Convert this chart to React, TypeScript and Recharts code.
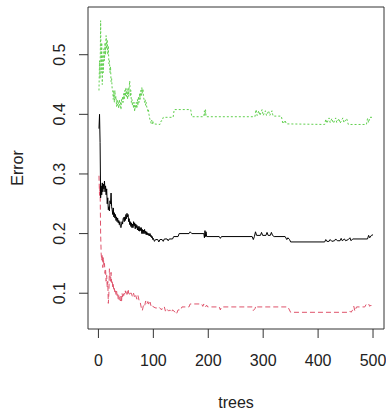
import React from 'react'
import { LineChart, Line, XAxis, YAxis, ReferenceArea } from 'recharts'

// error rate per number of trees: [tree, error]
const oobErr: [number, number][] = [
  [1, 0.376], [2, 0.4], [3, 0.353], [4, 0.26], [5, 0.28], [6, 0.265], [7, 0.285], [8, 0.27], [9, 0.283], [10, 0.275],
  [11, 0.288], [12, 0.27], [13, 0.28], [14, 0.265], [15, 0.275], [16, 0.25], [17, 0.26], [18, 0.24], [19, 0.245], [20, 0.238],
  [21, 0.255], [22, 0.25], [23, 0.268], [24, 0.245], [25, 0.24], [26, 0.232], [27, 0.243], [28, 0.228], [29, 0.235], [30, 0.226],
  [31, 0.232], [32, 0.222], [33, 0.228], [34, 0.22], [35, 0.226], [36, 0.218], [37, 0.222], [38, 0.215], [39, 0.22], [40, 0.212],
  [41, 0.21], [42, 0.214], [43, 0.22], [44, 0.216], [45, 0.225], [46, 0.227], [47, 0.22], [48, 0.228], [49, 0.222], [50, 0.232],
  [51, 0.225], [52, 0.234], [53, 0.228], [54, 0.232], [55, 0.22], [56, 0.225], [57, 0.215], [58, 0.22], [59, 0.212], [60, 0.218],
  [61, 0.21], [62, 0.216], [63, 0.21], [64, 0.22], [65, 0.213], [66, 0.218], [67, 0.208], [68, 0.216], [69, 0.21], [70, 0.214],
  [71, 0.206], [72, 0.212], [73, 0.205], [74, 0.212], [75, 0.204], [76, 0.21], [77, 0.205], [78, 0.21], [79, 0.2], [80, 0.207],
  [81, 0.2], [82, 0.206], [83, 0.2], [84, 0.207], [85, 0.2], [86, 0.204], [87, 0.198], [88, 0.203], [89, 0.198], [90, 0.201],
  [91, 0.197], [92, 0.2], [93, 0.196], [94, 0.2], [95, 0.195], [96, 0.197], [97, 0.193], [98, 0.195], [99, 0.19], [100, 0.192],
  [102, 0.187], [104, 0.19], [108, 0.19], [110, 0.186], [112, 0.19], [116, 0.19], [118, 0.187], [120, 0.191], [125, 0.191],
  [127, 0.188], [129, 0.191], [135, 0.191], [137, 0.195], [145, 0.195], [147, 0.2], [165, 0.2], [167, 0.203], [170, 0.2],
  [192, 0.2], [193, 0.193], [194, 0.205], [195, 0.195], [196, 0.203], [197, 0.195], [220, 0.195], [222, 0.192], [224, 0.195],
  [280, 0.195], [282, 0.19], [284, 0.195], [286, 0.203], [288, 0.197], [295, 0.197], [297, 0.202], [299, 0.197], [305, 0.197],
  [307, 0.202], [309, 0.197], [313, 0.197], [315, 0.202], [317, 0.197], [320, 0.195], [340, 0.195], [343, 0.19], [345, 0.193],
  [348, 0.19], [350, 0.186], [412, 0.186], [414, 0.19], [416, 0.187], [420, 0.187], [422, 0.19], [425, 0.187], [430, 0.188],
  [432, 0.191], [435, 0.188], [440, 0.188], [442, 0.192], [444, 0.188], [448, 0.191], [450, 0.188], [455, 0.19], [458, 0.193],
  [460, 0.188], [463, 0.191], [490, 0.191], [492, 0.197], [494, 0.193], [497, 0.197], [500, 0.198],
]

const class1Err: [number, number][] = [
  [1, 0.297], [2, 0.264], [3, 0.28], [4, 0.2], [5, 0.166], [6, 0.155], [7, 0.165], [8, 0.143], [9, 0.16], [10, 0.145],
  [11, 0.15], [12, 0.133], [13, 0.14], [14, 0.12], [15, 0.13], [16, 0.11], [17, 0.12], [18, 0.083], [19, 0.1], [20, 0.141],
  [21, 0.13], [22, 0.12], [23, 0.135], [24, 0.118], [25, 0.122], [26, 0.11], [27, 0.115], [28, 0.104], [29, 0.108], [30, 0.1],
  [31, 0.104], [32, 0.098], [33, 0.104], [34, 0.096], [35, 0.1], [36, 0.09], [37, 0.096], [38, 0.088], [39, 0.093], [40, 0.087],
  [41, 0.095], [42, 0.085], [43, 0.1], [44, 0.094], [45, 0.1], [46, 0.096], [47, 0.1], [48, 0.098], [49, 0.104], [50, 0.1],
  [51, 0.104], [52, 0.098], [53, 0.1], [54, 0.107], [55, 0.1], [56, 0.1], [57, 0.096], [58, 0.1], [60, 0.1], [62, 0.094],
  [64, 0.1], [66, 0.092], [68, 0.096], [70, 0.09], [72, 0.096], [74, 0.088], [76, 0.085], [78, 0.076], [80, 0.071], [82, 0.08],
  [84, 0.078], [86, 0.087], [88, 0.082], [90, 0.086], [92, 0.08], [94, 0.085], [96, 0.078], [98, 0.08], [100, 0.077],
  [105, 0.075], [110, 0.077], [115, 0.072], [117, 0.077], [120, 0.077], [122, 0.07], [124, 0.074], [128, 0.07], [130, 0.072],
  [133, 0.068], [135, 0.072], [140, 0.068], [142, 0.065], [145, 0.072], [150, 0.072], [152, 0.077], [165, 0.077], [167, 0.082],
  [188, 0.082], [190, 0.078], [192, 0.082], [195, 0.077], [197, 0.08], [199, 0.077], [220, 0.077], [222, 0.072], [224, 0.077],
  [280, 0.077], [282, 0.071], [285, 0.074], [287, 0.079], [289, 0.077], [345, 0.077], [350, 0.068], [455, 0.068], [458, 0.07],
  [460, 0.068], [463, 0.072], [465, 0.078], [467, 0.07], [470, 0.077], [485, 0.077], [488, 0.082], [492, 0.082], [494, 0.078],
  [496, 0.08], [500, 0.076],
]

const class2Err: [number, number][] = [
  [1, 0.44], [2, 0.49], [3, 0.46], [4, 0.557], [5, 0.47], [6, 0.52], [7, 0.45], [8, 0.5], [9, 0.47], [10, 0.51],
  [11, 0.49], [12, 0.52], [13, 0.5], [14, 0.532], [15, 0.51], [16, 0.525], [17, 0.5], [18, 0.515], [19, 0.485], [20, 0.49],
  [21, 0.47], [22, 0.48], [23, 0.455], [24, 0.46], [25, 0.443], [26, 0.44], [27, 0.425], [28, 0.44], [29, 0.42], [30, 0.44],
  [31, 0.425], [32, 0.43], [33, 0.413], [34, 0.425], [35, 0.415], [36, 0.42], [37, 0.41], [38, 0.425], [39, 0.415], [40, 0.42],
  [41, 0.408], [42, 0.425], [43, 0.42], [44, 0.43], [45, 0.42], [46, 0.435], [47, 0.425], [48, 0.44], [49, 0.43], [50, 0.445],
  [51, 0.43], [52, 0.44], [53, 0.425], [54, 0.445], [55, 0.43], [56, 0.445], [57, 0.456], [58, 0.43], [59, 0.44], [60, 0.42],
  [61, 0.425], [62, 0.415], [63, 0.42], [64, 0.41], [65, 0.42], [66, 0.405], [67, 0.415], [68, 0.41], [69, 0.42], [70, 0.41],
  [71, 0.425], [72, 0.415], [73, 0.43], [74, 0.42], [75, 0.435], [76, 0.425], [77, 0.44], [78, 0.43], [79, 0.445], [80, 0.435],
  [81, 0.443], [82, 0.43], [83, 0.425], [84, 0.42], [85, 0.425], [86, 0.415], [87, 0.42], [88, 0.412], [89, 0.41], [90, 0.405],
  [91, 0.408], [92, 0.4], [93, 0.395], [94, 0.39], [95, 0.388], [96, 0.385], [97, 0.39], [98, 0.384], [99, 0.389], [100, 0.384],
  [112, 0.383], [114, 0.389], [116, 0.389], [118, 0.395], [136, 0.395], [138, 0.408], [168, 0.408], [170, 0.396], [192, 0.396],
  [193, 0.406], [194, 0.398], [195, 0.408], [196, 0.396], [285, 0.396], [287, 0.408], [289, 0.398], [292, 0.406], [294, 0.398],
  [298, 0.408], [300, 0.398], [304, 0.406], [306, 0.398], [310, 0.406], [312, 0.398], [316, 0.406], [318, 0.397], [333, 0.397],
  [336, 0.384], [340, 0.39], [342, 0.384], [412, 0.383], [414, 0.392], [416, 0.385], [420, 0.394], [422, 0.386], [425, 0.393],
  [428, 0.385], [432, 0.394], [434, 0.386], [438, 0.393], [440, 0.385], [445, 0.394], [447, 0.386], [452, 0.393], [455, 0.383],
  [488, 0.383], [490, 0.393], [492, 0.386], [494, 0.395], [500, 0.395],
]

const xTicks = [0, 100, 200, 300, 400, 500]
const yTicks = [0.1, 0.2, 0.3, 0.4, 0.5]

const font = '"Liberation Sans", Arial, sans-serif'
const toRows = (pts: [number, number][]) => pts.map(([t, v]) => ({ t, v }))

const YTick = ({ x, y, payload }: any) => (
  <text
    x={x}
    y={y}
    transform={`rotate(-90, ${x}, ${y})`}
    textAnchor="middle"
    fontSize={16}
    fontFamily={font}
    fill="#222"
  >
    {Number(payload.value).toFixed(1)}
  </text>
)

export default function App() {
  return (
    <div style={{ position: 'absolute', left: 0, top: 0, background: '#fff' }}>
      <LineChart width={386} height={412} margin={{ top: 7, right: 2, left: 0, bottom: 0 }}>
        <XAxis
          dataKey="t"
          type="number"
          domain={[-19, 520]}
          ticks={xTicks}
          allowDataOverflow
          height={83}
          axisLine={false}
          tickSize={9}
          tickMargin={17}
          tickLine={{ stroke: '#333' }}
          tick={{ fill: '#222', fontSize: 16, fontFamily: font }}
          label={{
            content: ({ viewBox }: any) => (
              <text
                x={viewBox.x + viewBox.width / 2}
                y={viewBox.y + 79}
                textAnchor="middle"
                fontSize={16}
                fontFamily={font}
                fill="#222"
              >
                trees
              </text>
            ),
          }}
        />
        <YAxis
          type="number"
          domain={[0.04, 0.58]}
          ticks={yTicks}
          allowDataOverflow
          width={88}
          axisLine={false}
          tickSize={9}
          tickMargin={14}
          tickLine={{ stroke: '#333' }}
          tick={<YTick />}
          label={{
            content: ({ viewBox }: any) => {
              const cx = 23
              const cy = viewBox.y + viewBox.height / 2
              return (
                <text
                  x={cx}
                  y={cy}
                  transform={`rotate(-90, ${cx}, ${cy})`}
                  textAnchor="middle"
                  fontSize={16}
                  fontFamily={font}
                  fill="#222"
                >
                  Error
                </text>
              )
            },
          }}
        />
        <Line data={toRows(class2Err)} dataKey="v" stroke="#61D04F" strokeWidth={1} strokeDasharray="2 2" dot={false} isAnimationActive={false} />
        <Line data={toRows(class1Err)} dataKey="v" stroke="#DF536B" strokeWidth={1} strokeDasharray="5 3" dot={false} isAnimationActive={false} />
        <Line data={toRows(oobErr)} dataKey="v" stroke="#000" strokeWidth={1} dot={false} isAnimationActive={false} />
        <ReferenceArea x1={-19} x2={520} y1={0.04} y2={0.58} fill="none" stroke="#333" strokeWidth={1} />
      </LineChart>
    </div>
  )
}
